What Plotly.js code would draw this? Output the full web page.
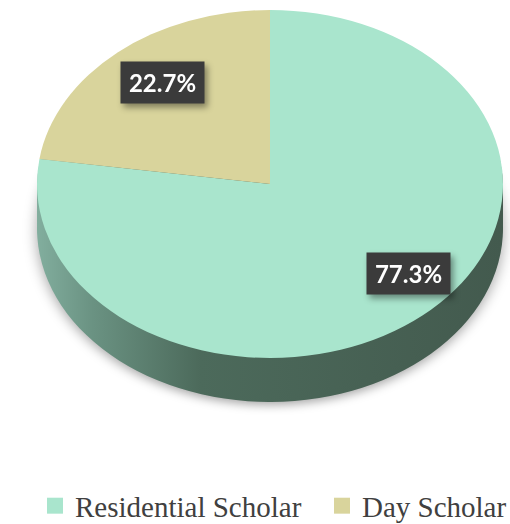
<!DOCTYPE html>
<html>
<head>
<meta charset="utf-8">
<script src="https://cdn.plot.ly/plotly-3.0.1.min.js"></script>
<style>html,body{margin:0;padding:0;background:#fff}#chart{width:510px;height:524px}</style>
</head>
<body>
<div id="chart"></div>
<script>
// ---- data ----
const labels = ['Residential Scholar', 'Day Scholar'];
const values = [77.3, 22.7];
const topColors = ['#a9e5cd', '#d9d49c'];
const sideColors = ['#4a6656', '#4a6656'];

// ---- layout helpers (pixels) ----
const W = 510, H = 524;
const cx = 270, topY = 10, D = 348, ellipseW = 466;
const sx = ellipseW / D;
const xDom = [2 * cx / W - 1, 1];
function yDom(k) { return [1 - (topY + D + k) / H, 1 - (topY + k) / H]; }

const data = [];
const offsets = [44, 36, 28, 20, 12, 4];
offsets.forEach(k => {
  data.push({
    type: 'pie', labels: labels, values: values, sort: false, direction: 'clockwise',
    domain: {x: xDom, y: yDom(k)}, textinfo: 'none', hoverinfo: 'skip', showlegend: false,
    marker: {colors: sideColors, line: {width: 0}}
  });
});
data.push({
  type: 'pie', labels: labels, values: values, sort: false, direction: 'clockwise',
  domain: {x: xDom, y: yDom(0)}, textinfo: 'none', hoverinfo: 'skip',
  marker: {colors: topColors, line: {width: 0}}
});

const total = values.reduce((a, b) => a + b, 0);
const labelPos = [[408, 273], [162, 83]];
const annotations = values.map((v, i) => {
  const txt = (v / total * 100).toFixed(1) + '%';
  const [px, py] = labelPos[i];
  return {
    xref: 'paper', yref: 'paper', x: px / W, y: 1 - py / H, xanchor: 'center', yanchor: 'middle',
    text: '<b>' + txt + '</b>', showarrow: false, width: 83, height: 41, borderpad: 0,
    bgcolor: '#3b3b3b',
    font: {family: 'Lato, "Open Sans", sans-serif', size: 24, color: '#ffffff'}
  };
});

const layout = {
  width: W, height: H, margin: {l: 0, r: 0, t: 0, b: 0, autoexpand: false},
  paper_bgcolor: '#ffffff',
  showlegend: true,
  legend: {
    orientation: 'h', x: 0.5, xanchor: 'center', y: 0, yanchor: 'bottom',
    font: {family: '"Liberation Serif", "DejaVu Serif", serif', size: 29, color: '#404040'},
    itemwidth: 30
  },
  annotations: annotations
};

Plotly.newPlot('chart', data, layout, {staticPlot: true}).then(gd => {
  const svgNS = 'http://www.w3.org/2000/svg';
  const svg = gd.querySelector('svg.main-svg');
  let defs = svg.querySelector('defs');
  if (!defs) { defs = document.createElementNS(svgNS, 'defs'); svg.insertBefore(defs, svg.firstChild); }
  const grad = document.createElementNS(svgNS, 'linearGradient');
  grad.setAttribute('id', 'sideGrad');
  grad.setAttribute('x1', '0'); grad.setAttribute('x2', '1');
  grad.setAttribute('y1', '0'); grad.setAttribute('y2', '0');
  [['0', '#82ae9e'], ['0.12', '#6a9282'], ['0.35', '#4c6a5b'], ['1', '#435a4e']].forEach(([o, c]) => {
    const s = document.createElementNS(svgNS, 'stop');
    s.setAttribute('offset', o); s.setAttribute('stop-color', c);
    grad.appendChild(s);
  });
  defs.appendChild(grad);

  const layer = gd.querySelector('.pielayer');
  if (layer) {
    const ex = layer.getAttribute('transform') || '';
    layer.setAttribute('transform', `translate(${cx},0) scale(${sx},1) translate(${-cx},0) ` + ex);
    const traces = layer.querySelectorAll('g.trace');
    traces.forEach((t, i) => {
      if (i < offsets.length) {
        t.querySelectorAll('path.surface').forEach(p => { p.style.fill = 'url(#sideGrad)'; });
      }
    });
    if (traces[0]) traces[0].style.filter = 'drop-shadow(0px 3px 5px rgba(0,0,0,0.35))';
  }
  gd.querySelectorAll('.annotation').forEach(a => {
    a.style.filter = 'drop-shadow(3px 4px 3px rgba(0,0,0,0.4))';
  });
  gd.querySelectorAll('.legendpoints path').forEach(p => {
    const ex = p.getAttribute('transform') || '';
    p.setAttribute('transform', ex + ' scale(1.33)');
  });
  // place legend entries
  const leg = gd.querySelector('g.legend');
  if (leg) {
    const sb = leg.querySelector('.scrollbox');
    if (sb) sb.removeAttribute('clip-path');
    leg.removeAttribute('clip-path');
    const items = leg.querySelectorAll('.traces');
    const t1 = items[0] && items[0].querySelector('text.legendtext');
    if (t1) {
      const r1 = t1.getBoundingClientRect();
      const dx = 75 - r1.left, dy = 507 - (r1.top + r1.bottom) / 2;
      const ex = leg.getAttribute('transform') || '';
      leg.setAttribute('transform', `translate(${dx},${dy}) ` + ex);
      const t2 = items[1] && items[1].querySelector('text.legendtext');
      if (t2) {
        const r2 = t2.getBoundingClientRect();
        const dx2 = 362 - r2.left;
        const ex2 = items[1].getAttribute('transform') || '';
        items[1].setAttribute('transform', `translate(${dx2},0) ` + ex2);
      }
    }
  }
});
</script>
</body>
</html>
